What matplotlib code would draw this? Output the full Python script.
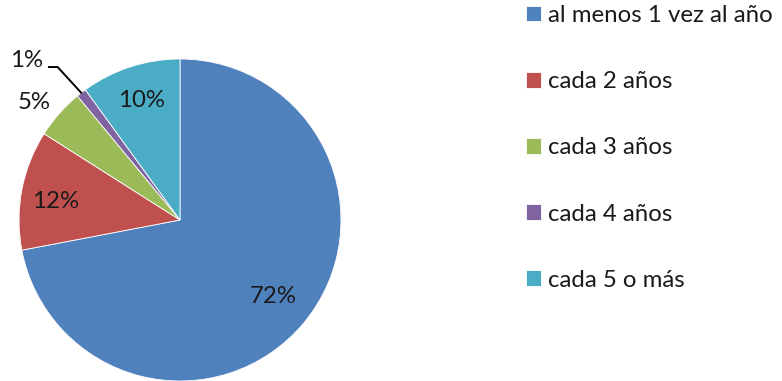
import numpy as np
import matplotlib
matplotlib.use("Agg")
import matplotlib.pyplot as plt

categories = ["al menos 1 vez al año", "cada 2 años", "cada 3 años", "cada 4 años", "cada 5 o más"]
values = [72, 12, 5, 1, 10]
colors = ["#4F81BD", "#C0504D", "#9BBB59", "#8064A2", "#4BACC6"]

plt.rcParams["font.family"] = ["Lato", "DejaVu Sans"]

W, H = 782, 381
fig = plt.figure(figsize=(W / 100, H / 100), dpi=100)

# pie axes: centre (180, 220) px, radius 161 px
cx, cy, r = 180, 220, 161
ax = fig.add_axes([(cx - r) / W, (H - cy - r) / H, 2 * r / W, 2 * r / H])

wedges, _ = ax.pie(values, colors=colors, startangle=90, counterclock=False,
                   radius=1, wedgeprops=dict(edgecolor="white", linewidth=0.6),
                   frame=True)
ax.set_xlim(-1, 1)
ax.set_ylim(-1, 1)
ax.set_aspect("equal")
ax.axis("off")

fs = 17.3
# percentage labels: inside for big slices, outside for small ones
label_r = [0.75, 0.78, 1.16, None, 0.78]
label_dang = [0, 2.5, 2.5, 0, 0]
for w, v, lr, da in zip(wedges, values, label_r, label_dang):
    mid = np.deg2rad((w.theta1 + w.theta2) / 2 + da)
    txt = f"{v}%"
    if lr is None:
        # leader line for the tiny slice
        ex, ey = 0.995 * np.cos(mid), 0.995 * np.sin(mid)
        ax.plot([ex, -0.76, -0.82], [ey, 0.95, 0.95], color="black", lw=1.4,
                solid_capstyle="butt")
        ax.text(-0.95, 0.99, txt, ha="center", va="center", fontsize=fs, color="#1a1a1a")
        continue
    ax.text(lr * np.cos(mid), lr * np.sin(mid), txt, ha="center", va="center",
            fontsize=fs, color="#1a1a1a")

leg = fig.legend(wedges, categories, loc="upper left",
                 bbox_to_anchor=(526 / W, 1 - 5 / H), frameon=False,
                 fontsize=fs, handlelength=0.64, handleheight=0.64,
                 handletextpad=0.28, labelspacing=1.88, borderpad=0, borderaxespad=0)
for t in leg.get_texts():
    t.set_color("#1a1a1a")

fig.savefig("out.png", dpi=100)
